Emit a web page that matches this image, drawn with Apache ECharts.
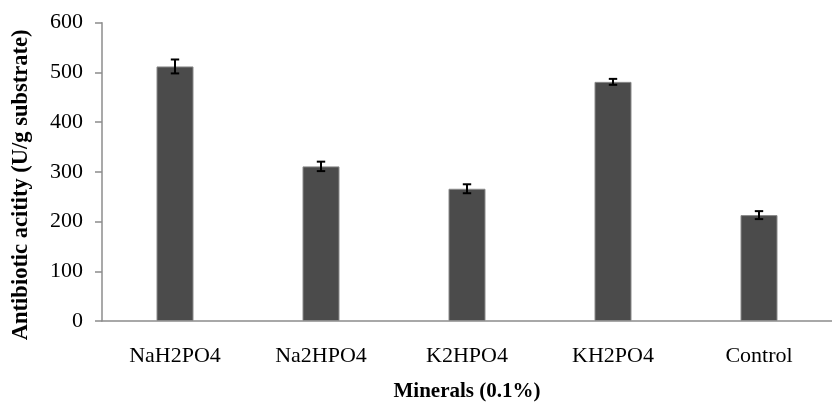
<!DOCTYPE html>
<html>
<head>
<meta charset="utf-8">
<script src="https://cdn.jsdelivr.net/npm/echarts@6/dist/echarts.min.js"></script>
<style>
  html, body { margin: 0; padding: 0; background: #fff; }
  #chart { width: 832px; height: 407px; }
</style>
</head>
<body>
<div id="chart"></div>
<script>
// Mineral sources tested and resulting antibiotic activity
const minerals = ['NaH2PO4', 'Na2HPO4', 'K2HPO4', 'KH2PO4', 'Control'];
const activity = [512, 311, 266, 481, 213];
const activityErr = [14, 9.5, 9, 6, 8];
const yTicks = [0, 100, 200, 300, 400, 500, 600];

const serif = '"Liberation Serif", "DejaVu Serif", serif';
const chart = echarts.init(document.getElementById('chart'), null, { renderer: 'canvas' });

chart.setOption({
  animation: false,
  grid: { left: 102, right: -11, top: 22.7, bottom: 82.7, containLabel: false },
  xAxis: {
    type: 'category',
    data: minerals,
    name: 'Minerals (0.1%)',
    nameLocation: 'middle',
    nameGap: 60,
    nameTextStyle: { fontFamily: serif, fontSize: 21, fontWeight: 'bold', color: '#000', verticalAlign: 'top' },
    axisLine: { lineStyle: { color: '#8c8c8c', width: 1.5 } },
    axisTick: { show: false },
    axisLabel: { fontFamily: serif, fontSize: 22, color: '#000', margin: 24 }
  },
  yAxis: {
    type: 'value',
    min: yTicks[0],
    max: yTicks[yTicks.length - 1],
    interval: 100,
    name: 'Antibiotic acitity (U/g substrate)',
    nameLocation: 'middle',
    nameGap: 69,
    nameTextStyle: { fontFamily: serif, fontSize: 22.5, fontWeight: 'bold', color: '#000', padding: [0, 26, 0, 0] },
    axisLine: { show: true, lineStyle: { color: '#8c8c8c', width: 1.5 } },
    axisTick: { show: true, length: 7, lineStyle: { color: '#8c8c8c', width: 1.5 } },
    splitLine: { show: false },
    axisLabel: { fontFamily: serif, fontSize: 22, color: '#000', margin: 19 }
  },
  series: [
    {
      type: 'bar',
      data: activity,
      barWidth: 37,
      itemStyle: { color: '#4b4b4b', borderColor: '#8a8a8a', borderWidth: 1 }
    },
    {
      type: 'custom',
      data: activity.map((v, i) => [i, v, activityErr[i]]),
      z: 10,
      renderItem: function (params, api) {
        const x = api.value(0);
        const v = api.value(1);
        const e = api.value(2);
        const top = api.coord([x, v + e]);
        const bot = api.coord([x, v - e]);
        const half = 4.2;
        const style = { stroke: '#000', lineWidth: 2 };
        return {
          type: 'group',
          children: [
            { type: 'line', shape: { x1: top[0], y1: top[1], x2: bot[0], y2: bot[1] }, style: style },
            { type: 'line', shape: { x1: top[0] - half, y1: top[1], x2: top[0] + half, y2: top[1] }, style: style },
            { type: 'line', shape: { x1: bot[0] - half, y1: bot[1], x2: bot[0] + half, y2: bot[1] }, style: style }
          ]
        };
      }
    }
  ]
});
</script>
</body>
</html>
